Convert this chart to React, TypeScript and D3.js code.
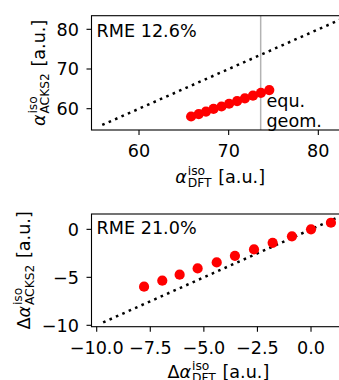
import React from "react";
import * as d3 from "d3";

// ---------- data ----------
const topDFT = [65.81, 66.66, 67.47, 68.31, 69.2, 70.05, 70.94, 71.81, 72.71, 73.6, 74.53];
const topACKS2 = [58.03, 58.65, 59.28, 59.93, 60.55, 61.24, 61.91, 62.6, 63.27, 64.0, 64.69];
const botDFT = [-7.79, -6.94, -6.13, -5.29, -4.4, -3.55, -2.66, -1.79, -0.89, 0.0, 0.93];
const botACKS2 = [-5.97, -5.35, -4.72, -4.07, -3.45, -2.76, -2.09, -1.4, -0.73, 0.0, 0.69];
const equGeomX = 73.57;
const topXTicks = [60, 70, 80];
const topYTicks = [60, 70, 80];
const botXTicks = [-10, -7.5, -5, -2.5, 0];
const botYTicks = [-10, -5, 0];
const topDiag = [55.9, 83.4];
const botDiag = [-9.7, 1.6];
const topRME = "RME 12.6%";
const botRME = "RME 21.0%";

const FONT = "DejaVu Sans";
const FS = 17.6;
const SFS = 12.3;

let ctx: CanvasRenderingContext2D | null = null;
function tw(text: string, size: number, italic = false): number {
  if (!ctx) ctx = document.createElement("canvas").getContext("2d");
  if (!ctx) return text.length * size * 0.6;
  ctx.font = `${italic ? "italic " : ""}${size}px "${FONT}"`;
  return ctx.measureText(text).width;
}

const fmtMinus = (s: string) => s.replace("-", "\u2212");

function MathLabel({ x, y, rot, delta, sub }: { x: number; y: number; rot: number; delta: boolean; sub: string }) {
  const pre = delta ? "Δ" : "";
  const wPre = pre ? tw(pre, FS) : 0;
  const wA = tw("α", FS, true);
  const wScr = Math.max(tw("iso", SFS), tw(sub, SFS));
  const gap = 1;
  const wSp = tw(" ", FS);
  const wRest = tw("[a.u.]", FS);
  const total = wPre + wA + 0.8 + wScr + gap + wSp + wRest;
  const s = -total / 2;
  return (
    <g transform={`translate(${x},${y}) rotate(${rot})`} fontFamily={FONT} fill="#000">
      {pre && (
        <text x={s} y={0} fontSize={FS}>
          {pre}
        </text>
      )}
      <text x={s + wPre} y={0} fontSize={FS} fontStyle="italic">
        α
      </text>
      <text x={s + wPre + wA + 0.8} y={-7.6} fontSize={SFS}>
        iso
      </text>
      <text x={s + wPre + wA + 0.8} y={4.3} fontSize={SFS}>
        {sub}
      </text>
      <text x={s + wPre + wA + 0.8 + wScr + gap + wSp} y={0} fontSize={FS}>
        [a.u.]
      </text>
    </g>
  );
}

type PanelProps = {
  xs: d3.ScaleLinear<number, number>;
  ys: d3.ScaleLinear<number, number>;
  xd: number[];
  yd: number[];
  xTicks: number[];
  yTicks: number[];
  xFmt: (v: number) => string;
  yFmt: (v: number) => string;
  diag: number[];
  id: string;
  rme: string;
  rmeY: number;
  xTickBase: number;
  yLabelX: number;
  xLabelY: number;
  delta: boolean;
  vline?: number;
};

function Panel(p: PanelProps) {
  const [x0, x1] = p.xs.range();
  const [y1, y0] = p.ys.range();
  const line = d3
    .line<number>()
    .x((d) => p.xs(d))
    .y((d) => p.ys(d));
  const tickLen = 5;
  return (
    <g>
      <defs>
        <clipPath id={p.id}>
          <rect x={x0} y={y0} width={x1 - x0} height={y1 - y0} />
        </clipPath>
      </defs>
      <g clipPath={`url(#${p.id})`}>
        <path d={line(p.diag) || ""} fill="none" stroke="#000" strokeWidth={2.5} strokeDasharray="2.6,4.4" />
        {p.vline !== undefined && (
          <line x1={p.xs(p.vline)} x2={p.xs(p.vline)} y1={y0} y2={y1} stroke="#b3b3b3" strokeWidth={1.5} />
        )}
        {p.xd.map((d, i) => (
          <circle key={i} cx={p.xs(d)} cy={p.ys(p.yd[i])} r={5.1} fill="#ff0000" />
        ))}
      </g>
      <rect x={x0} y={y0} width={x1 - x0} height={y1 - y0} fill="none" stroke="#000" strokeWidth={1.1} />
      {p.xTicks.map((t) => (
        <g key={"x" + t}>
          <line x1={p.xs(t)} x2={p.xs(t)} y1={y1} y2={y1 + tickLen} stroke="#000" strokeWidth={1.1} />
          <text x={p.xs(t)} y={p.xTickBase} fontSize={FS} fontFamily={FONT} textAnchor="middle" fill="#000">
            {p.xFmt(t)}
          </text>
        </g>
      ))}
      {p.yTicks.map((t) => (
        <g key={"y" + t}>
          <line x1={x0 - tickLen} x2={x0} y1={p.ys(t)} y2={p.ys(t)} stroke="#000" strokeWidth={1.1} />
          <text x={79} y={p.ys(t) + 6.4} fontSize={FS} fontFamily={FONT} textAnchor="end" fill="#000">
            {p.yFmt(t)}
          </text>
        </g>
      ))}
      <text x={96.6} y={p.rmeY} fontSize={FS} fontFamily={FONT} fill="#000">
        {p.rme}
      </text>
      <MathLabel x={(x0 + x1) / 2} y={p.xLabelY} rot={0} delta={p.delta} sub="DFT" />
      <MathLabel x={p.yLabelX} y={(y0 + y1) / 2} rot={-90} delta={p.delta} sub="ACKS2" />
    </g>
  );
}

export default function App() {
  const W = 339;
  const H = 380;
  const txs = d3.scaleLinear().domain([54.7, 83.4]).range([91.5, 348.8]);
  const tys = d3.scaleLinear().domain([54.63, 83.43]).range([130, 15.7]);
  const bxs = d3.scaleLinear().domain([-10.243, 1.6]).range([91.5, 345.3]);
  const bys = d3.scaleLinear().domain([-10.146, 1.6]).range([326.7, 214]);
  return (
    <svg
      width={W}
      height={H}
      style={{ position: "absolute", left: 0, top: 0, background: "#fff" }}
      xmlns="http://www.w3.org/2000/svg"
    >
      <rect x={0} y={0} width={W} height={H} fill="#fff" />
      <Panel
        id="clipTop"
        xs={txs}
        ys={tys}
        xd={topDFT}
        yd={topACKS2}
        xTicks={topXTicks}
        yTicks={topYTicks}
        xFmt={(v) => d3.format("d")(v)}
        yFmt={(v) => d3.format("d")(v)}
        diag={topDiag}
        rme={topRME}
        rmeY={37.3}
        xTickBase={157}
        yLabelX={44.8}
        xLabelY={182.5}
        delta={false}
        vline={equGeomX}
      />
      <text x={266.4} y={106.5} fontSize={FS} fontFamily={FONT} fill="#000">
        equ.
      </text>
      <text x={266.4} y={126.5} fontSize={FS} fontFamily={FONT} fill="#000">
        geom.
      </text>
      <Panel
        id="clipBot"
        xs={bxs}
        ys={bys}
        xd={botDFT}
        yd={botACKS2}
        xTicks={botXTicks}
        yTicks={botYTicks}
        xFmt={(v) => fmtMinus(d3.format(".1f")(v))}
        yFmt={(v) => fmtMinus(d3.format("d")(v))}
        diag={botDiag}
        rme={botRME}
        rmeY={234}
        xTickBase={353.5}
        yLabelX={30}
        xLabelY={377.7}
        delta={true}
      />
    </svg>
  );
}
